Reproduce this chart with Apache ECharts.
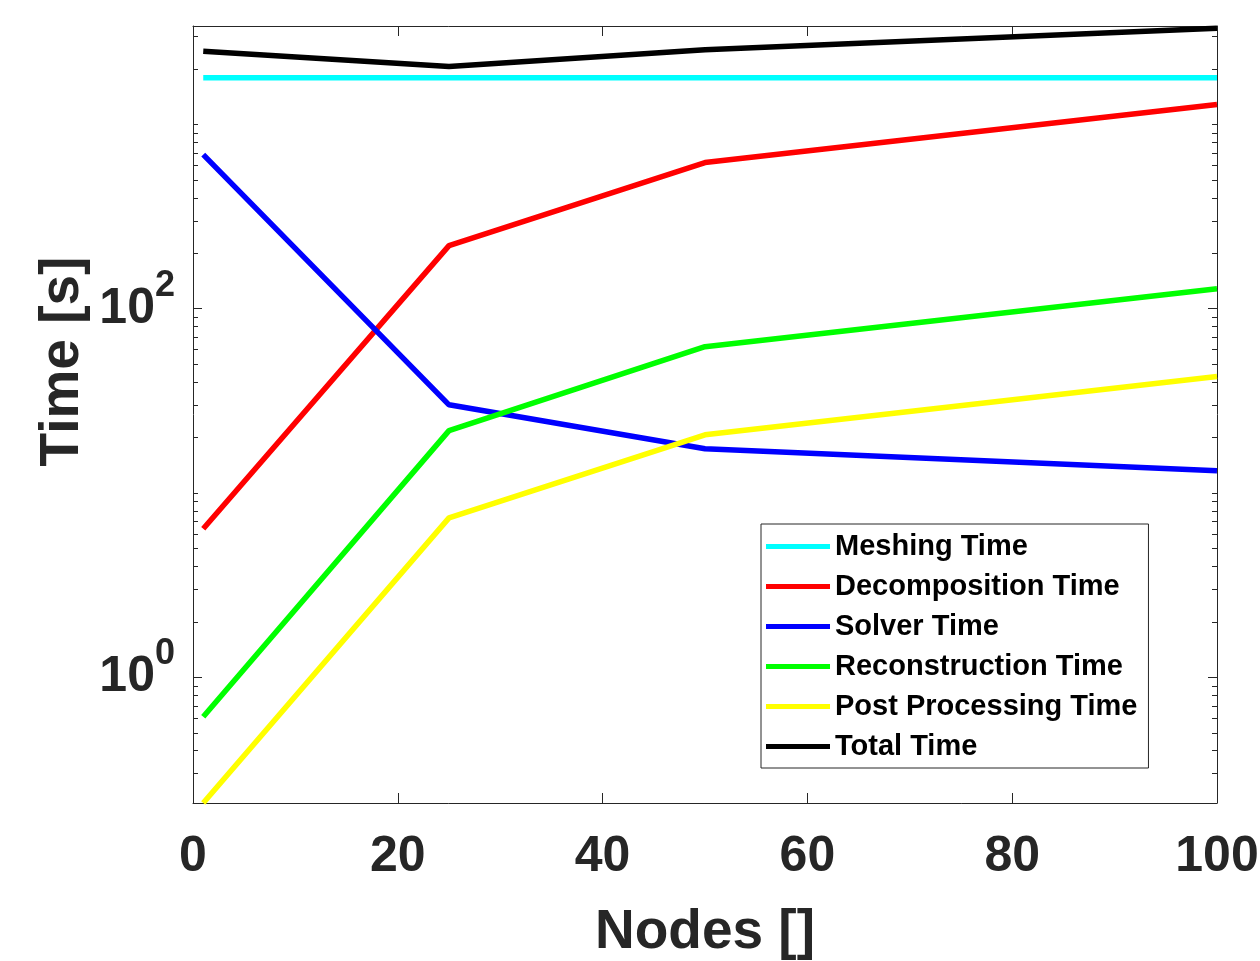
<!DOCTYPE html>
<html>
<head>
<meta charset="utf-8">
<script src="https://cdn.jsdelivr.net/npm/echarts@6/dist/echarts.min.js"></script>
<style>
  html, body { margin: 0; padding: 0; background: #fff; }
  #chart { width: 1260px; height: 961px; }
</style>
</head>
<body>
<div id="chart"></div>
<script>
// ---- data ----
const nodes = [1, 25, 50, 100];
const meshingTime        = [1790, 1790, 1790, 1790];
const decompositionTime  = [6.4, 220, 621, 1282];
const solverTime         = [686, 30.1, 17.4, 13.2];
const reconstructionTime = [0.611, 21.8, 62.2, 128.5];
const postProcessingTime = [0.208, 7.33, 20.7, 42.9];
const totalTime          = [2496, 2061, 2545, 3330];

const seriesNames  = ['Meshing Time', 'Decomposition Time', 'Solver Time',
                      'Reconstruction Time', 'Post Processing Time', 'Total Time'];
const seriesColors = ['#00ffff', '#ff0000', '#0000ff', '#00ff00', '#ffff00', '#000000'];

const xTicks = [0, 20, 40, 60, 80, 100];
const yMin = 0.208, yMax = 3420;          // tight log limits
const yLabelValues = [1, 100];            // labelled decades: 10^0, 10^2
const yLabelExps   = ['0', '2'];
// minor ticks: every integer multiple of each decade
const yMinorValues = [];
for (let k = -1; k <= 3; k++) {
  for (let m = 1; m <= 9; m++) {
    const v = m * Math.pow(10, k);
    if (v >= yMin && v <= yMax && yLabelValues.indexOf(v) < 0) yMinorValues.push(v);
  }
}

const FONT = "'Liberation Sans', Arial, Helvetica, sans-serif";
const AX = '#262626';

const toPairs = vals => nodes.map((n, i) => [n, vals[i]]);
const allVals = [meshingTime, decompositionTime, solverTime,
                 reconstructionTime, postProcessingTime, totalTime];

const lgMin = Math.log10(yMin), lgMax = Math.log10(yMax);
const lg = arr => arr.map(v => Math.log10(v));

function tickAxis(position, values, len, withLabels, showLine) {
  return {
    type: 'value', position: position, min: lgMin, max: lgMax,
    axisLine: { show: showLine, onZero: false, lineStyle: { color: AX, width: 1 } },
    axisTick: { show: true, inside: true, length: len, customValues: lg(values),
                lineStyle: { color: AX, width: 1 } },
    axisLabel: withLabels ? {
      show: true, customValues: lg(values), margin: 18,
      formatter: function (v) {
        const idx = yLabelValues.findIndex(x => Math.abs(Math.log10(x) - v) < 1e-6);
        return '{b|10}{s|' + yLabelExps[idx] + '}';
      },
      rich: {
        b: { fontSize: 50, fontWeight: 'bold', color: AX, fontFamily: FONT, lineHeight: 50, verticalAlign: 'bottom' },
        s: { fontSize: 36, fontWeight: 'bold', color: AX, fontFamily: FONT, lineHeight: 36,
             verticalAlign: 'bottom', padding: [0, 0, 30, 0] }
      }
    } : { show: false },
    splitLine: { show: false }
  };
}

const chart = echarts.init(document.getElementById('chart'), null, { renderer: 'canvas' });
chart.setOption({
  animation: false,
  backgroundColor: '#fff',
  grid: { left: 193, right: 43, top: 26, bottom: 158, containLabel: false, outerBoundsMode: 'none' },
  xAxis: [
    {
      type: 'value', position: 'bottom', min: 0, max: 100, interval: 20,
      name: 'Nodes []', nameLocation: 'middle', nameGap: 102,
      nameTextStyle: { fontSize: 55, fontWeight: 'bold', color: AX, fontFamily: FONT },
      axisLine: { show: true, onZero: false, lineStyle: { color: AX, width: 1 } },
      axisTick: { show: true, inside: true, length: 10, lineStyle: { color: AX } },
      axisLabel: { fontSize: 50, fontWeight: 'bold', color: AX, fontFamily: FONT, margin: 29,
                   customValues: xTicks },
      splitLine: { show: false }
    },
    {
      type: 'value', position: 'top', min: 0, max: 100, interval: 20,
      axisLine: { show: true, onZero: false, lineStyle: { color: AX, width: 1 } },
      axisTick: { show: true, inside: true, length: 10, lineStyle: { color: AX } },
      axisLabel: { show: false }, splitLine: { show: false }
    }
  ],
  yAxis: [
    {
      type: 'log', logBase: 10, min: yMin, max: yMax, position: 'left',
      name: 'Time [s]', nameLocation: 'middle', nameRotate: 90, nameGap: 103,
      nameTextStyle: { fontSize: 55, fontWeight: 'bold', color: AX, fontFamily: FONT,
                       padding: [0, 0, 0, 106] },
      axisLine: { show: true, onZero: false, lineStyle: { color: AX, width: 1 } },
      axisTick: { show: false }, axisLabel: { show: false }, splitLine: { show: false }
    },
    tickAxis('left', yLabelValues, 9, true, false),
    tickAxis('left', yMinorValues, 5, false, false),
    tickAxis('right', yLabelValues, 9, false, true),
    tickAxis('right', yMinorValues, 5, false, false)
  ],
  legend: {
    orient: 'vertical', left: 761, top: 524,
    padding: [8, 11, 7, 5],
    itemWidth: 64, itemHeight: 5, itemGap: 11, icon: 'rect',
    borderColor: AX, borderWidth: 1, backgroundColor: '#fff',
    textStyle: { fontSize: 29, fontWeight: 'bold', color: '#000', fontFamily: FONT, lineHeight: 29 },
    data: seriesNames
  },
  series: seriesNames.map((name, i) => ({
    name: name, type: 'line', xAxisIndex: 0, yAxisIndex: 0,
    data: toPairs(allVals[i]),
    showSymbol: false, symbol: 'none',
    lineStyle: { color: seriesColors[i], width: 5.5 },
    itemStyle: { color: seriesColors[i] },
    emphasis: { disabled: true }
  }))
});
</script>
</body>
</html>
